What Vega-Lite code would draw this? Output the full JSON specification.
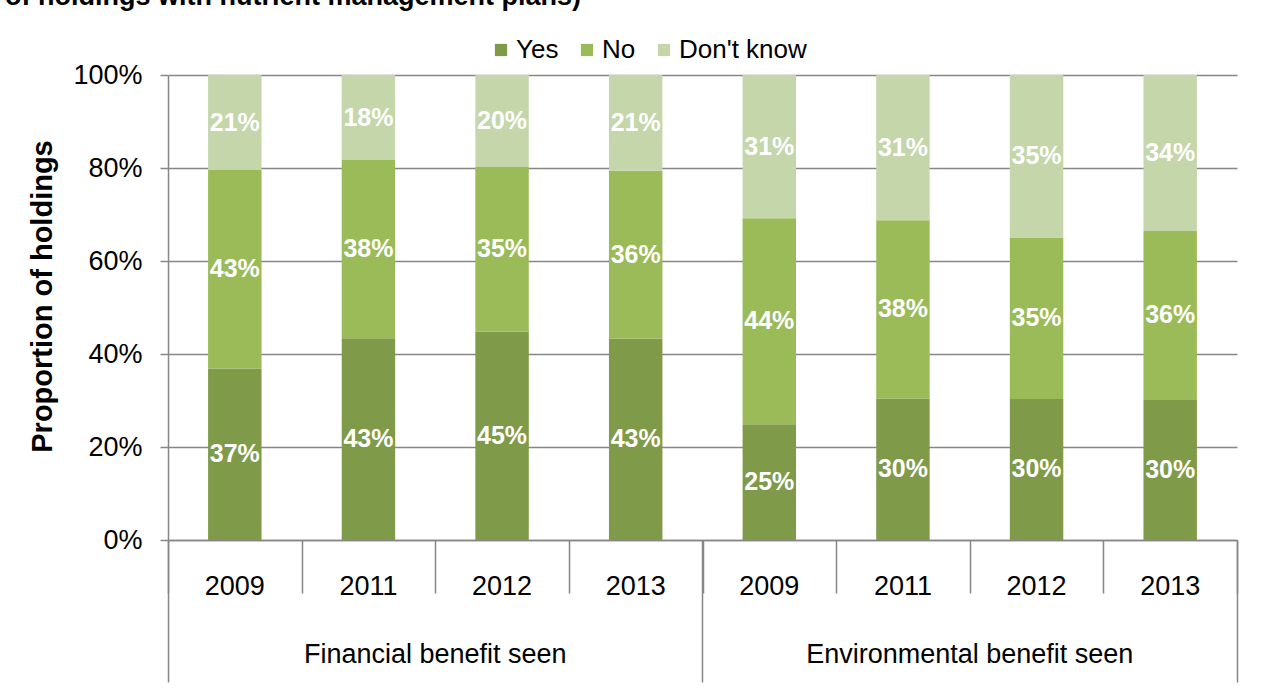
{
  "$schema": "https://vega.github.io/schema/vega-lite/v6.json",
  "width": 1069,
  "height": 465,
  "autosize": {"type": "none"},
  "padding": {"left": 168, "top": 75, "right": 41, "bottom": 148},
  "background": "white",
  "title": {
    "text": "of holdings with nutrient management plans)",
    "anchor": "start",
    "dx": -24,
    "dy": -22,
    "fontSize": 27,
    "fontWeight": "bold",
    "font": "Liberation Sans",
    "color": "black"
  },
  "config": {
    "view": {"stroke": null},
    "font": "Liberation Sans"
  },
  "data": {
    "values": [
      {"group": "Financial benefit seen", "year": "2009", "answer": "Yes", "value": 0.370},
      {"group": "Financial benefit seen", "year": "2009", "answer": "No", "value": 0.428},
      {"group": "Financial benefit seen", "year": "2009", "answer": "Don't know", "value": 0.205},
      {"group": "Financial benefit seen", "year": "2011", "answer": "Yes", "value": 0.434},
      {"group": "Financial benefit seen", "year": "2011", "answer": "No", "value": 0.383},
      {"group": "Financial benefit seen", "year": "2011", "answer": "Don't know", "value": 0.183},
      {"group": "Financial benefit seen", "year": "2012", "answer": "Yes", "value": 0.448},
      {"group": "Financial benefit seen", "year": "2012", "answer": "No", "value": 0.354},
      {"group": "Financial benefit seen", "year": "2012", "answer": "Don't know", "value": 0.198},
      {"group": "Financial benefit seen", "year": "2013", "answer": "Yes", "value": 0.434},
      {"group": "Financial benefit seen", "year": "2013", "answer": "No", "value": 0.361},
      {"group": "Financial benefit seen", "year": "2013", "answer": "Don't know", "value": 0.206},
      {"group": "Environmental benefit seen", "year": "2009", "answer": "Yes", "value": 0.249},
      {"group": "Environmental benefit seen", "year": "2009", "answer": "No", "value": 0.443},
      {"group": "Environmental benefit seen", "year": "2009", "answer": "Don't know", "value": 0.308},
      {"group": "Environmental benefit seen", "year": "2011", "answer": "Yes", "value": 0.304},
      {"group": "Environmental benefit seen", "year": "2011", "answer": "No", "value": 0.383},
      {"group": "Environmental benefit seen", "year": "2011", "answer": "Don't know", "value": 0.312},
      {"group": "Environmental benefit seen", "year": "2012", "answer": "Yes", "value": 0.303},
      {"group": "Environmental benefit seen", "year": "2012", "answer": "No", "value": 0.347},
      {"group": "Environmental benefit seen", "year": "2012", "answer": "Don't know", "value": 0.349},
      {"group": "Environmental benefit seen", "year": "2013", "answer": "Yes", "value": 0.303},
      {"group": "Environmental benefit seen", "year": "2013", "answer": "No", "value": 0.362},
      {"group": "Environmental benefit seen", "year": "2013", "answer": "Don't know", "value": 0.336}
    ]
  },
  "transform": [
    {"calculate": "datum.group + '|' + datum.year", "as": "key"},
    {"stack": "value", "groupby": ["key"], "sort": [{"field": "answer", "order": "descending"}], "offset": "normalize", "as": ["v0", "v1"]},
    {"calculate": "(datum.v0 + datum.v1) / 2", "as": "mid"}
  ],
  "resolve": {"axis": {"x": "independent", "y": "independent"}},
  "layer": [
    {
      "mark": {"type": "bar", "width": {"band": 0.4}},
      "encoding": {
        "x": {
          "field": "key", "type": "nominal",
          "scale": {
            "type": "band",
            "domain": ["Financial benefit seen|2009", "Financial benefit seen|2011", "Financial benefit seen|2012", "Financial benefit seen|2013", "Environmental benefit seen|2009", "Environmental benefit seen|2011", "Environmental benefit seen|2012", "Environmental benefit seen|2013"],
            "paddingInner": 0, "paddingOuter": 0
          },
          "axis": {
            "orient": "bottom", "title": null, "ticks": false, "grid": false,
            "domain": true, "domainColor": "#868686", "domainWidth": 1.5,
            "labelExpr": "split(datum.value, '|')[1]",
            "labelAngle": 0, "labelFontSize": 27, "labelColor": "black", "labelPadding": 33, "labelLimit": 0
          }
        },
        "y": {
          "field": "v0", "type": "quantitative",
          "scale": {"domain": [0, 1], "nice": false},
          "axis": {
            "orient": "left",
            "values": [0, 0.2, 0.4, 0.6, 0.8, 1], "format": ".0%",
            "title": "Proportion of holdings", "titleFontSize": 29, "titleFontWeight": "bold", "titleColor": "black", "titlePadding": 15, "titleY": 221,
            "labelFontSize": 27, "labelColor": "black", "labelPadding": 18,
            "tickSize": 8, "tickColor": "#868686", "tickWidth": 1.5,
            "domainColor": "#868686", "domainWidth": 1.5,
            "grid": true, "gridColor": "#868686", "gridWidth": 1.5
          }
        },
        "y2": {"field": "v1"},
        "color": {
          "field": "answer", "type": "nominal",
          "scale": {"domain": ["Yes", "No", "Don't know"], "range": ["#7f9a48", "#9bbb59", "#c4d6aa"]},
          "legend": {
            "orient": "none", "legendX": 320, "legendY": -38, "direction": "horizontal", "title": null,
            "symbolType": "square", "symbolSize": 150, "symbolStrokeWidth": 0,
            "labelFontSize": 26, "labelColor": "black", "labelOffset": 2, "columnPadding": 15
          }
        }
      }
    },
    {
      "mark": {"type": "text", "color": "white", "fontWeight": "bold", "fontSize": 25, "baseline": "middle"},
      "encoding": {
        "x": {
          "field": "key", "type": "nominal",
          "axis": {"orient": "bottom", "title": null, "labels": false, "domain": false, "grid": false, "tickBand": "extent", "tickSize": 53, "tickColor": "#868686", "tickWidth": 1.5}
        },
        "y": {"field": "mid", "type": "quantitative", "axis": null},
        "text": {"field": "value", "type": "quantitative", "format": ".0%"}
      }
    },
    {
      "mark": {"type": "rule", "opacity": 0},
      "encoding": {
        "x": {
          "field": "key", "type": "nominal",
          "axis": {"orient": "bottom", "title": null, "labels": false, "domain": false, "grid": false, "values": ["Financial benefit seen|2009", "Environmental benefit seen|2009"], "bandPosition": 0, "tickSize": 142, "tickColor": "#868686", "tickWidth": 1.5}
        }
      }
    },
    {
      "mark": {"type": "rule", "opacity": 0},
      "encoding": {
        "x": {
          "field": "key", "type": "nominal",
          "axis": {"orient": "bottom", "title": null, "labels": false, "domain": false, "grid": false, "values": ["Environmental benefit seen|2013"], "bandPosition": 1, "tickSize": 142, "tickColor": "#868686", "tickWidth": 1.5}
        }
      }
    },
    {
      "mark": {"type": "rule", "opacity": 0},
      "encoding": {
        "x": {
          "field": "key", "type": "nominal",
          "axis": {"orient": "bottom", "title": null, "ticks": false, "domain": false, "grid": false, "values": ["Financial benefit seen|2012", "Environmental benefit seen|2012"], "labelExpr": "split(datum.value, '|')[0]", "labelOffset": -66.8, "labelAngle": 0, "labelFontSize": 27, "labelColor": "black", "labelPadding": 101, "labelLimit": 0}
        }
      }
    }
  ]
}
